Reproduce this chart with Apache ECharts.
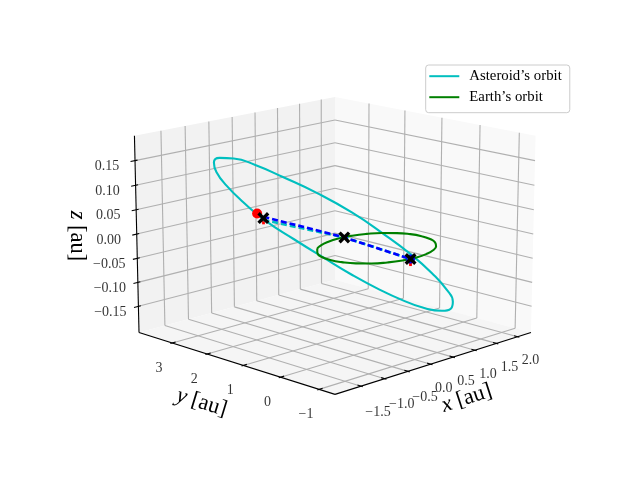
<!DOCTYPE html>
<html>
<head>
<meta charset="utf-8">
<style>html,body{margin:0;padding:0;background:#fff}#main{width:640px;height:480px}</style>
<script src="https://cdn.jsdelivr.net/npm/echarts@6/dist/echarts.min.js"></script>
</head>
<body>
<div id="main"></div>
<script>
// orbit samples, in au
const asteroidX = [2.25,2.179,1.97,1.638,1.18,0.641,0.1,-0.441,-0.945,-1.378,-1.71,-1.919,-1.99,-1.919,-1.675,-1.318,-0.885,-0.381,0.16,0.701,1.205,1.638,1.97,2.179,2.25];
const asteroidY = [1.881,2.508,3.051,3.471,3.757,3.884,3.81,3.564,3.165,2.639,2.022,1.356,0.687,0.06,-0.508,-0.943,-1.214,-1.316,-1.241,-0.996,-0.597,-0.071,0.546,1.212,1.881];
const asteroidZ = [-0.207,-0.193,-0.166,-0.128,-0.082,-0.032,0.021,0.072,0.118,0.155,0.181,0.195,0.195,0.181,0.155,0.118,0.072,0.022,-0.031,-0.082,-0.128,-0.165,-0.192,-0.207,-0.207];
const earthX = [1,0.966,0.866,0.707,0.5,0.259,0,-0.259,-0.5,-0.707,-0.866,-0.966,-1,-0.966,-0.866,-0.707,-0.5,-0.259,0,0.259,0.5,0.707,0.866,0.966,1];
const earthY = [0,0.259,0.5,0.707,0.866,0.966,1,0.966,0.866,0.707,0.5,0.259,0,-0.259,-0.5,-0.707,-0.866,-0.966,-1,-0.966,-0.866,-0.707,-0.5,-0.259,0];

// sight lines and markers: asteroid end, second earth position, first earth position
const blueX = [0.62,0.14,-0.07];
const blueY = [3.914,1.03,-0.95];
const blueZ = [-0.0235,-0.002,-0.002];
const cyanX = [0.62,0.14,-0.07];
const cyanY = [3.914,1.03,-0.95];
const cyanZ = [-0.0305,-0.002,-0.002];
const crossX = [0.62,0.14,-0.07];
const crossY = [3.914,1.03,-0.95];
const crossZ = [-0.0265,-0.002,-0.002];
const redDot = [0.48,3.912,-0.0135];
const blueDot = [-0.07,-0.95,-0.002];

const xTicks = [-1.5,-1,-0.5,0,0.5,1,1.5,2];
const yTicks = [-1,0,1,2,3];
const zTicks = [-0.15,-0.1,-0.05,0,0.05,0.1,0.15];
const xTickLabels = ['−1.5','−1.0','−0.5','0.0','0.5','1.0','1.5','2.0'];
const yTickLabels = ['−1','0','1','2','3'];
const zTickLabels = ['−0.15','−0.10','−0.05','0.00','0.05','0.10','0.15'];

const xLim = [-2.038,2.322];
const yLim = [-1.405,3.973];
const zLim = [-0.205,0.2];

const FONT = '"Liberation Serif", serif';

// same view as a 3d axes with elev 15, azim -135, box 4:4:3
const elev = 15 * Math.PI / 180, azim = -135 * Math.PI / 180;
const box = [1.1905,1.1905,0.8929];
const dist = 10;
const n = [Math.cos(elev)*Math.cos(azim), Math.cos(elev)*Math.sin(azim), Math.sin(elev)];
const ul = Math.hypot(n[0],n[1]);
const u = [-n[1]/ul, n[0]/ul, 0];
const v = [n[1]*u[2]-n[2]*u[1], n[2]*u[0]-n[0]*u[2], n[0]*u[1]-n[1]*u[0]];
const scaleX = 2355, scaleY = 2280, centerX = 335, centerY = 235.3;

function project(x, y, z) {
    const d = [
        ((x-xLim[0])/(xLim[1]-xLim[0])-0.5)*box[0],
        ((y-yLim[0])/(yLim[1]-yLim[0])-0.5)*box[1],
        ((z-zLim[0])/(zLim[1]-zLim[0])-0.5)*box[2]
    ];
    const w = dist - (d[0]*n[0]+d[1]*n[1]+d[2]*n[2]);
    return [
        centerX + scaleX*(d[0]*u[0]+d[1]*u[1]+d[2]*u[2])/w,
        centerY - scaleY*(d[0]*v[0]+d[1]*v[1]+d[2]*v[2])/w
    ];
}
const seg = (a, b) => ({coords:[project(a[0],a[1],a[2]), project(b[0],b[1],b[2])]});
const path3d = (xs, ys, zs) => xs.map((x,i) => project(x, ys[i], zs ? zs[i] : 0));

const x0 = xLim[0], x1 = xLim[1], y0 = yLim[0], y1 = yLim[1], z0 = zLim[0], z1 = zLim[1];

// panes
const panes = [
    {color:'#f9f9f9', pts:[[x1,y0,z0],[x1,y1,z0],[x1,y1,z1],[x1,y0,z1]]},
    {color:'#f2f2f2', pts:[[x0,y1,z0],[x1,y1,z0],[x1,y1,z1],[x0,y1,z1]]},
    {color:'#f5f5f5', pts:[[x0,y0,z0],[x1,y0,z0],[x1,y1,z0],[x0,y1,z0]]}
];

// gridlines
const gridLines = [];
xTicks.forEach(t => { gridLines.push(seg([t,y0,z0],[t,y1,z0]), seg([t,y1,z0],[t,y1,z1])); });
yTicks.forEach(t => { gridLines.push(seg([x0,t,z0],[x1,t,z0]), seg([x1,t,z0],[x1,t,z1])); });
zTicks.forEach(t => { gridLines.push(seg([x0,y1,t],[x1,y1,t]), seg([x1,y0,t],[x1,y1,t])); });

// axis edges and ticks
const axisLines = [seg([x0,y0,z0],[x1,y0,z0]), seg([x0,y0,z0],[x0,y1,z0]), seg([x0,y1,z0],[x0,y1,z1])];
xTicks.forEach(t => axisLines.push(seg([t,y0-0.045,z0],[t,y0+0.09,z0])));
yTicks.forEach(t => axisLines.push(seg([x0-0.036,t,z0],[x0+0.073,t,z0])));
zTicks.forEach(t => axisLines.push(seg([x0-0.09,y1,t],[x0+0.05,y1,t])));

const redStubs = [seg([-0.07,-0.95,-0.002],[-0.07,-0.95,-0.016]), seg([0.62,3.914,-0.0265],[0.62,3.914,-0.04])];

function tickSeries(name, ticks, labels, pos, off) {
    return {
        name: name, type: 'scatter', symbolSize: 0, silent: true, z: 9,
        data: ticks.map((t,i) => ({
            value: pos(t),
            label: {show:true, position:'inside', offset:off(t), formatter:labels[i], color:'#000', fontFamily:FONT, fontSize:14}
        }))
    };
}

function axisName(text, x, y, deg) {
    return {
        type: 'text', x: x, y: y, rotation: deg*Math.PI/180,
        style: {
            text: text, font: '22.5px '+FONT, fill: '#000', align: 'center', verticalAlign: 'middle',
            rich: {i: {fontStyle:'italic', fontFamily:FONT, fontSize:22.5}}
        }
    };
}

const crossPath = 'path://M0 2L2 0L5 3L8 0L10 2L7 5L10 8L8 10L5 7L2 10L0 8L3 5Z';

const chart = echarts.init(document.getElementById('main'));
chart.setOption({
    animation: false,
    backgroundColor: '#fff',
    grid: {left:0, right:0, top:0, bottom:0},
    xAxis: {type:'value', min:0, max:640, show:false},
    yAxis: {type:'value', min:0, max:480, inverse:true, show:false},
    legend: {
        left: 425.7, top: 65,
        orient: 'vertical',
        data: ['Asteroid’s orbit','Earth’s orbit'],
        icon: 'rect',
        padding: [3.7,8,8,3.6],
        itemWidth: 30, itemHeight: 2, itemGap: 6,
        backgroundColor: 'rgba(255,255,255,0.8)',
        borderColor: '#ccc', borderWidth: 1, borderRadius: 3,
        textStyle: {fontFamily:FONT, fontSize:14.8, color:'#000', padding:[0,0,0,5]},
        selectedMode: false
    },
    series: [
        {
            type: 'custom', z: 1, silent: true,
            data: panes.map((p,i) => [i]),
            renderItem: function (params, api) {
                const p = panes[api.value(0)];
                return {
                    type: 'polygon',
                    shape: {points: p.pts.map(q => api.coord(project(q[0],q[1],q[2])))},
                    style: {fill: p.color}
                };
            }
        },
        {type:'lines', coordinateSystem:'cartesian2d', z:2, silent:true, data:gridLines, lineStyle:{color:'#b0b0b0', width:1.1, opacity:1}},
        {type:'lines', coordinateSystem:'cartesian2d', z:3, silent:true, data:axisLines, lineStyle:{color:'#000', width:1.1, opacity:1}},
        {name:'Asteroid’s orbit', type:'line', z:4, smooth:true, symbol:'none', data:path3d(asteroidX,asteroidY,asteroidZ), lineStyle:{color:'#00bfbf', width:2.1}, itemStyle:{color:'#00bfbf'}},
        {name:'Earth’s orbit', type:'line', z:4, smooth:true, symbol:'none', data:path3d(earthX,earthY), lineStyle:{color:'#008000', width:2.1}, itemStyle:{color:'#008000'}},
        {type:'scatter', z:5, silent:true, symbol:'circle', symbolSize:9, itemStyle:{color:'#0000ff', opacity:1}, data:[project(blueDot[0],blueDot[1],blueDot[2])]},
        {type:'lines', coordinateSystem:'cartesian2d', z:5, silent:true, data:redStubs, lineStyle:{color:'#ff0000', width:2.8, opacity:1}},
        {type:'scatter', z:5, silent:true, symbol:'circle', symbolSize:10, itemStyle:{color:'#ff0000', opacity:1}, data:[project(redDot[0],redDot[1],redDot[2])]},
        {type:'line', z:6, symbol:'none', silent:true, data:path3d(cyanX,cyanY,cyanZ), lineStyle:{color:'#00bfbf', width:2.6, type:[6,3]}},
        {type:'line', z:6, symbol:'none', silent:true, data:path3d(blueX,blueY,blueZ), lineStyle:{color:'#0000ff', width:2.6, type:[6,3]}},
        {type:'scatter', z:7, silent:true, symbol:crossPath, symbolSize:12, itemStyle:{color:'#000', opacity:1}, data:path3d(crossX,crossY,crossZ)},
        tickSeries('xTicks', xTicks, xTickLabels, t => project(t,y0,z0), t => t<0 ? [17,26] : [13,24]),
        tickSeries('yTicks', yTicks, yTickLabels, t => project(x0,t,z0), t => [-13,25]),
        tickSeries('zTicks', zTicks, zTickLabels, t => project(x0,y1,t), t => [-28,6])
    ],
    graphic: [
        axisName('{i|x} [au]', 466.7, 398.3, 18),
        axisName('{i|y} [au]', 201.7, 402.7, -17),
        axisName('{i|z} [au]', 77, 236, -90)
    ]
});
</script>
</body>
</html>
